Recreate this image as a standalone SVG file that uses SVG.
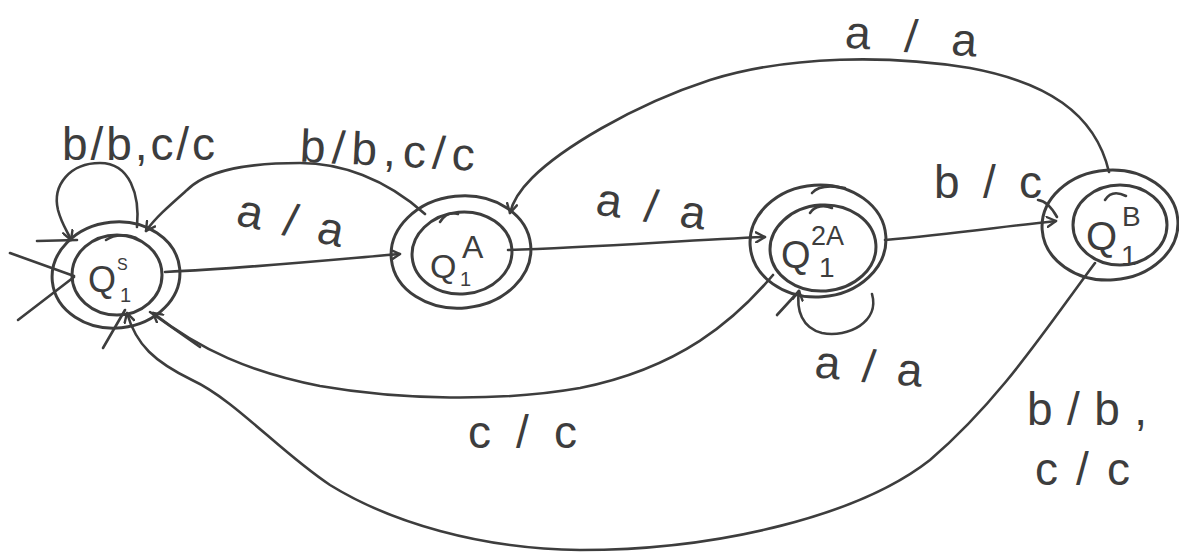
<svg xmlns="http://www.w3.org/2000/svg" width="1179" height="552" viewBox="0 0 1179 552">
<defs>
<marker id="arr" viewBox="0 0 12 12" refX="10" refY="6" markerWidth="12" markerHeight="12" markerUnits="userSpaceOnUse" orient="auto">
<path d="M1,1 L10,6 L1,11" fill="none" stroke="#3d3d3d" stroke-width="2.4" stroke-linecap="round" stroke-linejoin="round"/>
</marker>
<style>
.ln{fill:none;stroke:#3d3d3d;stroke-width:3;stroke-linecap:round;stroke-linejoin:round}
.cn{fill:none;stroke:#3d3d3d;stroke-width:2.6;stroke-linecap:round;stroke-linejoin:round}
.t{font-family:"Liberation Sans","DejaVu Sans",sans-serif;fill:#3d3d3d}
.lb{font-size:46px}
</style>
</defs>
<rect width="1179" height="552" fill="#ffffff"/>

<g id="connectors">
<!-- start arrows into Q1S -->
<path class="cn" d="M10,253 L74,276"/>
<path class="cn" d="M18,320 L74,277"/>
<path class="cn" d="M37,241 L77,240"/>
<path class="cn" d="M103,348 L125,310"/>
<path class="cn" d="M150,312 L200,347"/>
<!-- Q1S self loop -->
<path class="cn" d="M137,227 C140,195 130,163 100,163 C70,163 52,185 58,210 C62,225 68,232 71,240" marker-end="url(#arr)"/>
<!-- Q1S -> Q1A a/a -->
<path class="cn" d="M165,272 C250,268 330,260 400,254" marker-end="url(#arr)"/>
<!-- Q1A -> Q1S b/b,c/c -->
<path class="cn" d="M425,214 C385,178 340,163 300,163 C240,163 205,172 187,190 C170,205 155,218 146,231" marker-end="url(#arr)"/>
<!-- Q1A -> Q12A a/a -->
<path class="cn" d="M508,250 C600,247 690,240 765,237" marker-end="url(#arr)"/>
<!-- Q12A self loop a/a -->
<path class="cn" d="M872,294 C880,322 848,338 822,333 C802,328 796,310 799,291" marker-end="url(#arr)"/>
<path class="cn" d="M777,315 L799,291"/>
<!-- Q12A -> Q1S c/c -->
<path class="cn" d="M773,275 C735,320 680,368 580,388 C500,402 400,400 320,386 C250,372 200,350 153,313" marker-end="url(#arr)"/>
<!-- Q12A -> Q1B b/c -->
<path class="cn" d="M885,240 C950,234 1000,227 1056,221" marker-end="url(#arr)"/>
<path class="cn" d="M1038,200 C1046,201 1052,208 1057,217"/>
<!-- Q1B -> Q1A a/a -->
<path class="cn" d="M1109,172 C1095,112 1045,82 970,68 C890,55 790,55 710,80 C630,106 560,150 532,178 C520,190 513,200 510,213" marker-end="url(#arr)"/>
<!-- Q1B -> Q1S b/b,c/c -->
<path class="cn" d="M1095,263 C1045,330 1000,400 930,460 C860,515 720,550 580,550 C480,549 390,522 330,485 C280,452 235,400 192,380 C155,362 136,345 127,313" marker-end="url(#arr)"/>
</g>

<g id="node-Q1S">
<ellipse class="ln" cx="117" cy="275" rx="45" ry="40"/>
<ellipse class="ln" cx="116" cy="275" rx="64" ry="53" transform="rotate(-6 116 275)"/>
<path class="cn" d="M106,240 C115,234 128,234 136,238"/>
<text class="t" x="88" y="292" font-size="36">Q</text>
<text class="t" x="117" y="270" font-size="16">S</text>
<text class="t" x="120" y="302" font-size="20">1</text>
</g>

<g id="node-Q1A">
<ellipse class="ln" cx="462" cy="253" rx="50" ry="41" transform="rotate(-5 462 253)"/>
<ellipse class="ln" cx="461" cy="252" rx="70" ry="56" transform="rotate(-6 461 252)"/>
<path class="cn" d="M440,222 C445,214 452,212 458,214"/>
<text class="t" x="430" y="278" font-size="34">Q</text>
<text class="t" x="462" y="258" font-size="32">A</text>
<text class="t" x="460" y="286" font-size="20">1</text>
</g>

<g id="node-Q12A">
<ellipse class="ln" cx="823" cy="248" rx="53" ry="43" transform="rotate(-4 823 248)"/>
<ellipse class="ln" cx="818" cy="241" rx="68" ry="56" transform="rotate(-4 818 241)"/>
<path class="cn" d="M812,193 C818,186 830,185 845,188"/>
<path class="cn" d="M810,213 C815,205 825,205 832,208"/>
<text class="t" x="781" y="268" font-size="38">Q</text>
<text class="t" x="811" y="245" font-size="27">2A</text>
<text class="t" x="819" y="277" font-size="28">1</text>
</g>

<g id="node-Q1B">
<ellipse class="ln" cx="1120" cy="225" rx="47" ry="40"/>
<ellipse class="ln" cx="1110" cy="225" rx="68" ry="55" transform="rotate(-4 1110 225)"/>
<path class="cn" d="M1105,200 C1110,192 1118,192 1126,196"/>
<text class="t" x="1086" y="250" font-size="40">Q</text>
<text class="t" x="1122" y="226" font-size="28">B</text>
<text class="t" x="1121" y="265" font-size="28">1</text>
</g>

<g id="labels">
<text class="t lb" x="62" y="160" textLength="153" lengthAdjust="spacing">b/b,c/c</text>
<text class="t lb" x="300" y="166" textLength="175" lengthAdjust="spacing" transform="rotate(3 387 150)">b/b,c/c</text>
<text class="t lb" x="236" y="236" textLength="108" lengthAdjust="spacing" transform="rotate(12 290 224)">a/a</text>
<text class="t lb" x="596" y="222" textLength="110" lengthAdjust="spacing" transform="rotate(8 651 208)">a/a</text>
<text class="t lb" x="845" y="52" textLength="132" lengthAdjust="spacing" transform="rotate(4 910 40)">a/a</text>
<text class="t lb" x="934" y="198" textLength="108" lengthAdjust="spacing">b/c</text>
<text class="t lb" x="815" y="382" textLength="108" lengthAdjust="spacing" transform="rotate(5 869 365)">a/a</text>
<text class="t lb" x="468" y="448" textLength="109" lengthAdjust="spacing">c/c</text>
<text class="t lb" x="1027" y="425" textLength="120" lengthAdjust="spacing">b/b,</text>
<text class="t lb" x="1035" y="485" textLength="95" lengthAdjust="spacing">c/c</text>
</g>
</svg>
